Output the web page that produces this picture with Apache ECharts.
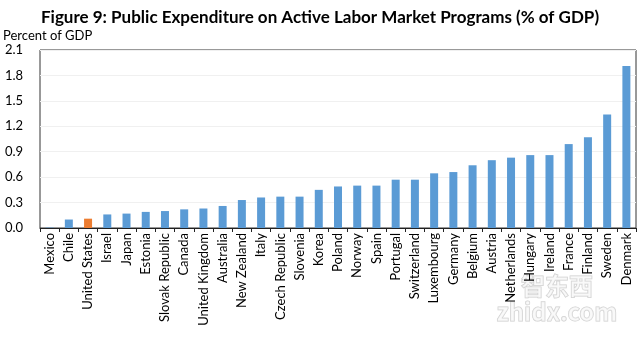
<!DOCTYPE html>
<html><head><meta charset="utf-8">
<script src="https://cdn.jsdelivr.net/npm/echarts@6/dist/echarts.min.js"></script>
<style>html,body{margin:0;padding:0;background:#fff}#c{width:640px;height:337px}</style>
</head><body><div id="c"></div>
<script>
const categories = ["Mexico","Chile","United States","Israel","Japan","Estonia","Slovak Republic","Canada","United Kingdom","Australia","New Zealand","Italy","Czech Republic","Slovenia","Korea","Poland","Norway","Spain","Portugal","Switzerland","Luxembourg","Germany","Belgium","Austria","Netherlands","Hungary","Ireland","France","Finland","Sweden","Denmark"];
const values = [0.005,0.10,0.11,0.16,0.17,0.19,0.20,0.22,0.23,0.26,0.33,0.36,0.37,0.37,0.45,0.49,0.50,0.50,0.57,0.57,0.645,0.66,0.74,0.80,0.83,0.86,0.86,0.99,1.07,1.34,1.91];
const highlight = "United States";
const yTicks = [0,0.3,0.6,0.9,1.2,1.5,1.8,2.1];
const titleText = "Figure 9: Public Expenditure on Active Labor Market Programs (% of GDP)";
const yName = "Percent of GDP";

const font = "Lato, 'Open Sans', sans-serif";
const chart = echarts.init(document.getElementById('c'));
chart.setOption({
  animation: false,
  title: {
    text: titleText, left: 'center', top: 4,
    textStyle: {fontFamily: font, fontSize: 17, fontWeight: 'bold', color: '#000'}
  },
  grid: {left: 37, right: 4, top: 50, bottom: 109, show: true, borderColor: '#333', borderWidth: 1},
  xAxis: {
    type: 'category', data: categories,
    axisLine: {lineStyle: {color: '#222'}},
    axisTick: {show: true, length: 4, lineStyle: {color: '#222'}},
    axisLabel: {rotate: 90, interval: 0, fontFamily: font, fontSize: 13, color: '#000', margin: 5}
  },
  yAxis: {
    type: 'value', min: yTicks[0], max: yTicks[yTicks.length-1], interval: 0.3,
    name: yName, nameLocation: 'end', nameGap: 8,
    nameTextStyle: {fontFamily: font, fontSize: 13, color: '#000', align: 'left', padding: [0,0,0,-37]},
    axisLine: {show: false}, axisTick: {show: false},
    splitLine: {lineStyle: {color: '#f0f0f0'}},
    axisLabel: {fontFamily: font, fontSize: 13, color: '#000', align: 'left', margin: 35,
      formatter: v => v.toFixed(1)}
  },
  series: [{
    type: 'bar', barWidth: 8,
    data: categories.map((c, i) => ({value: values[i], itemStyle: {color: c === highlight ? '#ED7D31' : '#5B9BD5'}}))
  }],
  graphic: [{
    type: 'text', right: 22, bottom: 12,
    style: {text: '智东西\nzhidx.com', fill: 'rgba(245,245,245,0.6)', stroke: 'rgba(170,170,170,0.6)', lineWidth: 1,
      font: 'bold 24px "Noto Sans CJK SC"', textAlign: 'center', lineHeight: 26}
  }]
});
</script></body></html>
